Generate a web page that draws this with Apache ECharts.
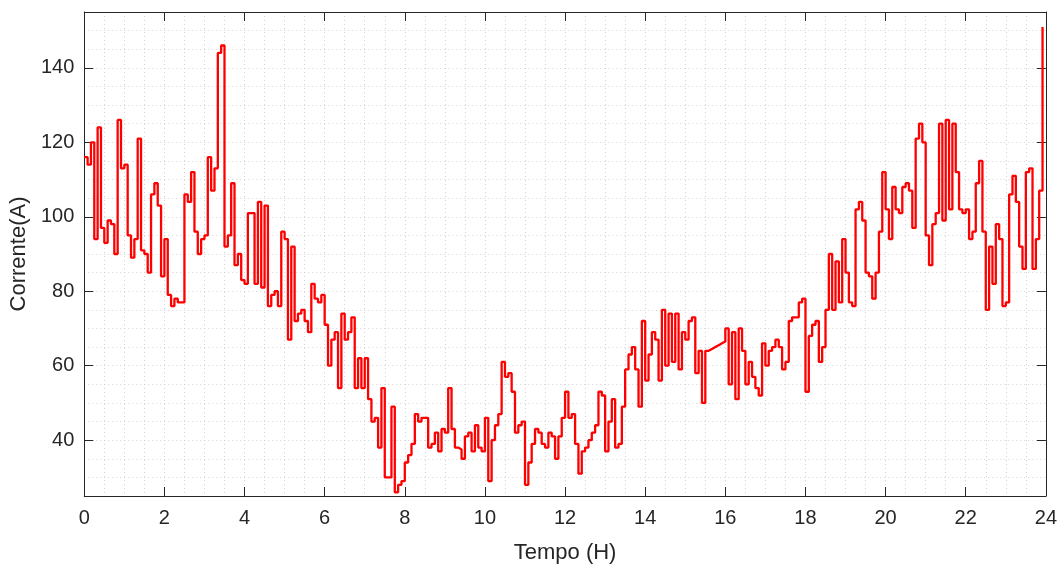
<!DOCTYPE html>
<html>
<head>
<meta charset="utf-8">
<script src="https://cdn.jsdelivr.net/npm/echarts@6/dist/echarts.min.js"></script>
<style>
html,body{margin:0;padding:0;background:#ffffff;}
#chart{width:1060px;height:569px;}
</style>
</head>
<body>
<div id="chart"></div>
<script>
// Sampling: one value every 5 minutes, starting at 0 h
const startHour = 0;
const stepHours = 5 / 60;

// Current (A), one value per 5-minute step
const current = [
  116, 114, 120, 94, 124, 97, 93, 99, 98, 90,
  126, 113, 114, 95, 89, 94, 121, 91, 90, 85,
  106, 109, 103, 84, 94, 79, 76, 78, 77, 77,
  106, 104, 112, 96, 90, 94, 95, 116, 107, 113,
  144, 146, 92, 95, 109, 87, 90, 83, 82, 101,
  101, 82, 104, 81, 103, 76, 79, 80, 76, 96,
  94, 67, 92, 72, 74, 75, 72, 69, 82, 78,
  77, 79, 71, 60, 67, 69, 54, 74, 67, 69,
  73, 54, 62, 54, 62, 51, 45, 46, 38, 54,
  30, 30, 49, 26, 28, 29, 34, 36, 39, 47,
  45, 46, 46, 38, 39, 42, 37, 43, 42, 54,
  43, 38, 37.5, 35, 41, 42, 37, 44, 38, 37,
  46, 29, 40, 44, 47, 61, 57, 58, 53, 42,
  44, 45, 28, 34, 39, 43, 42, 39, 38, 42,
  41, 35, 41, 46, 53, 46, 47, 39, 31, 37,
  38, 40, 42, 44, 53, 52, 37, 45, 51, 38,
  39, 49, 59, 63, 65, 59, 49, 72, 56, 63,
  69, 67, 56, 75, 60, 74, 61, 74, 59, 69,
  67, 72, 73, 58, 64, 50, 64, 64.5, 65, 65.5,
  66, 66.5, 70, 55, 69, 51, 70, 64, 55, 61,
  57, 54, 52, 66, 60, 64, 65, 67, 65, 59,
  61, 72, 73, 73, 77, 78, 53, 68, 71, 72,
  61, 65, 75, 90, 75, 88, 77, 94, 85, 77,
  76, 102, 104, 99, 85, 84, 78, 85, 96, 112,
  102, 94, 108, 102, 101, 108, 109, 107, 97, 121,
  125, 120, 95, 87, 98, 101, 125, 99, 126, 102,
  125, 112, 102, 101, 102, 94, 96, 109, 115, 96,
  75, 92, 82, 98, 94, 76, 77, 106, 111, 104,
  92, 86, 112, 113, 86, 94, 107, 151
];

const yTickValues = [40, 60, 80, 100, 120, 140];
const xAxisRange = [0, 24];
const yAxisRange = [25, 155];
const xAxisName = 'Tempo (H)';
const yAxisName = 'Corrente(A)';

const seriesData = current.map((v, i) => [startHour + i * stepHours, v]);

const FONT = '"Liberation Sans", Arial, Helvetica, sans-serif';
const AX = '#262626';
const GRIDC = '#d2d2d2';
const dotted = { type: [1, 3], color: GRIDC, width: 1 };

const chart = echarts.init(document.getElementById('chart'), null, { renderer: 'canvas' });
chart.setOption({
  animation: false,
  backgroundColor: '#ffffff',
  grid: { left: 82, right: 12, top: 12, bottom: 64, containLabel: false },
  xAxis: [
    {
      type: 'value', position: 'bottom',
      min: xAxisRange[0], max: xAxisRange[1], interval: 2,
      axisLine: { show: true, onZero: false, lineStyle: { color: AX, width: 1 } },
      axisTick: { show: true, inside: true, length: 9, lineStyle: { color: AX, width: 1 } },
      axisLabel: { show: true, color: AX, fontSize: 20, fontFamily: FONT, margin: 12 },
      minorTick: { show: false, splitNumber: 4 },
      splitLine: { show: true, lineStyle: dotted },
      minorSplitLine: { show: true, lineStyle: dotted },
      name: xAxisName, nameLocation: 'middle', nameGap: 46,
      nameTextStyle: { color: AX, fontSize: 22, fontFamily: FONT }
    },
    {
      type: 'value', position: 'top',
      min: xAxisRange[0], max: xAxisRange[1], interval: 2,
      axisLine: { show: true, onZero: false, lineStyle: { color: AX, width: 1 } },
      axisTick: { show: true, inside: true, length: 9, lineStyle: { color: AX, width: 1 } },
      axisLabel: { show: false },
      splitLine: { show: false }
    }
  ],
  yAxis: [
    {
      type: 'value', position: 'left',
      min: yAxisRange[0], max: yAxisRange[1],
      axisLine: { show: true, onZero: false, lineStyle: { color: AX, width: 1 } },
      axisTick: { show: true, inside: true, length: 9, customValues: yTickValues, lineStyle: { color: AX, width: 1 } },
      axisLabel: { show: true, customValues: yTickValues, color: AX, fontSize: 20, fontFamily: FONT, margin: 10 },
      splitLine: { show: false },
      name: yAxisName, nameLocation: 'middle', nameGap: 47, nameRotate: 90,
      nameTextStyle: { color: AX, fontSize: 22, fontFamily: FONT }
    },
    {
      type: 'value', position: 'right',
      min: yAxisRange[0], max: yAxisRange[1],
      axisLine: { show: true, onZero: false, lineStyle: { color: AX, width: 1 } },
      axisTick: { show: true, inside: true, length: 9, customValues: yTickValues, lineStyle: { color: AX, width: 1 } },
      axisLabel: { show: false },
      splitLine: { show: false }
    },
    {
      type: 'value', position: 'left',
      min: yAxisRange[0], max: yAxisRange[1], interval: 5,
      axisLine: { show: false },
      axisTick: { show: false },
      axisLabel: { show: false },
      splitLine: { show: true, lineStyle: dotted }
    }
  ],
  series: [
    {
      type: 'line',
      xAxisIndex: 0, yAxisIndex: 0,
      step: 'end',
      data: seriesData,
      showSymbol: false, symbol: 'none',
      lineStyle: { color: '#ff0000', width: 2.3 },
      z: 5
    }
  ]
});
</script>
</body>
</html>
